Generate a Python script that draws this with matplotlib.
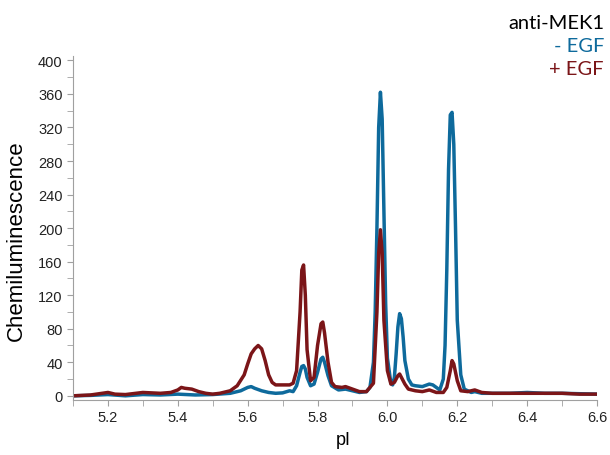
import numpy as np
import matplotlib.pyplot as plt
import matplotlib.ticker as mtick

plt.rcParams['font.family'] = ['Liberation Sans', 'DejaVu Sans']

# pI positions and signal for -EGF (blue)
pi_minus = np.array([5.10, 5.15, 5.20, 5.25, 5.30, 5.35, 5.40, 5.45, 5.50, 5.55,
                     5.58, 5.60, 5.61, 5.62, 5.64, 5.66, 5.68, 5.70, 5.72, 5.73,
                     5.74, 5.75, 5.755, 5.76, 5.765, 5.77, 5.78, 5.79, 5.80, 5.81,
                     5.815, 5.82, 5.83, 5.84, 5.86, 5.88, 5.90, 5.92, 5.94, 5.95,
                     5.96, 5.965, 5.97, 5.975, 5.98, 5.985, 5.99, 5.995, 6.00, 6.01,
                     6.015, 6.02, 6.025, 6.03, 6.035, 6.04, 6.045, 6.05, 6.06, 6.07,
                     6.08, 6.10, 6.12, 6.13, 6.14, 6.15, 6.16, 6.165, 6.17, 6.175,
                     6.18, 6.185, 6.19, 6.195, 6.20, 6.21, 6.22, 6.24, 6.25, 6.27,
                     6.30, 6.35, 6.40, 6.45, 6.50, 6.55, 6.60])
sig_minus = np.array([0, 0.5, 1.5, 0, 1.5, 1, 2, 1, 1.5, 3,
                      6, 10, 11, 9, 6, 4, 3, 3.5, 6, 5,
                      12, 28, 35, 36, 32, 22, 12, 14, 28, 44,
                      46, 40, 24, 12, 7, 8, 6, 4, 5, 10,
                      40, 100, 200, 320, 362, 330, 220, 110, 45, 15,
                      13, 22, 50, 82, 98, 92, 70, 42, 20, 13,
                      12, 11, 14, 13, 10, 7, 20, 60, 150, 270,
                      335, 338, 300, 200, 90, 25, 8, 4, 5, 3,
                      3, 3, 4, 3, 3, 2.5, 2])

# pI positions and signal for +EGF (dark red)
pi_plus = np.array([5.10, 5.15, 5.20, 5.22, 5.25, 5.28, 5.30, 5.35, 5.38, 5.40,
                    5.41, 5.42, 5.44, 5.46, 5.48, 5.50, 5.52, 5.55, 5.57, 5.59,
                    5.60, 5.61, 5.62, 5.63, 5.64, 5.65, 5.66, 5.67, 5.68, 5.70,
                    5.72, 5.73, 5.74, 5.75, 5.755, 5.76, 5.765, 5.77, 5.78, 5.79,
                    5.80, 5.81, 5.815, 5.82, 5.83, 5.84, 5.85, 5.87, 5.88, 5.90,
                    5.92, 5.94, 5.96, 5.97, 5.975, 5.98, 5.985, 5.99, 6.00, 6.01,
                    6.02, 6.03, 6.035, 6.04, 6.05, 6.06, 6.08, 6.10, 6.12, 6.14,
                    6.16, 6.17, 6.18, 6.185, 6.19, 6.20, 6.21, 6.23, 6.25, 6.27,
                    6.30, 6.35, 6.40, 6.45, 6.50, 6.55, 6.60])
sig_plus = np.array([0, 1, 4, 2, 1.5, 3, 4, 3, 4, 7,
                     10, 9, 8, 5, 3, 2, 3, 6, 12, 25,
                     38, 50, 56, 60, 56, 42, 25, 16, 13, 13,
                     13, 15, 30, 100, 150, 156, 120, 55, 18, 22,
                     60, 86, 88, 75, 40, 16, 11, 10, 11, 8,
                     5, 5, 15, 100, 170, 198, 170, 90, 30, 14,
                     16, 24, 26, 22, 14, 8, 6, 5, 7, 4,
                     4, 10, 30, 42, 38, 18, 6, 5, 7, 4,
                     3, 3, 3, 3, 3, 2, 2])

blue = '#0e6a9c'
red = '#7b1518'

fig = plt.figure(figsize=(6.1, 4.56), dpi=100)
ax = fig.add_axes([0.1197, 0.1206, 0.859, 0.754])

ax.plot(pi_minus, sig_minus, color=blue, lw=2.5, solid_joinstyle='round')
ax.plot(pi_plus, sig_plus, color=red, lw=2.5, solid_joinstyle='round')

ax.set_xlim(5.1, 6.6)
ax.set_ylim(-5, 405)
ax.xaxis.set_major_locator(mtick.MultipleLocator(0.2))
ax.xaxis.set_minor_locator(mtick.MultipleLocator(0.1))
ax.yaxis.set_major_locator(mtick.MultipleLocator(40))
ax.yaxis.set_minor_locator(mtick.MultipleLocator(20))
ax.xaxis.set_major_formatter(mtick.FormatStrFormatter('%.1f'))

for s in ['top', 'right']:
    ax.spines[s].set_visible(False)
for s in ['left', 'bottom']:
    ax.spines[s].set_color('#a0a0a0')
ax.tick_params(which='both', direction='out', color='#a0a0a0', labelsize=10.5,
               labelcolor='#222222', length=4)

ax.set_xlabel('pI', fontsize=13)
ax.set_ylabel('Chemiluminescence', fontsize=16)
ax.xaxis.set_label_coords(0.515, -0.09)
ax.yaxis.set_label_coords(-0.088, 0.465)

fig.text(0.99, 0.948, 'anti-MEK1', ha='right', va='center', fontsize=14.5, family='Lato', color='black')
fig.text(0.99, 0.898, '- EGF', ha='right', va='center', fontsize=14.5, family='Lato', color=blue)
fig.text(0.99, 0.848, '+ EGF', ha='right', va='center', fontsize=14.5, family='Lato', color=red)

fig.savefig('out.png', dpi=100)
